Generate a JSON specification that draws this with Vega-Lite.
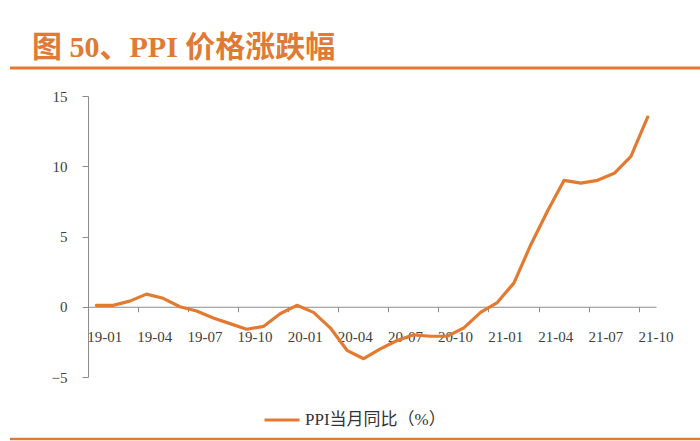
{
  "$schema": "https://vega.github.io/schema/vega-lite/v6.json",
  "autosize": "none",
  "width": 568,
  "height": 281,
  "padding": {"left": 88, "top": 96, "right": 44, "bottom": 64},
  "background": "white",
  "title": {
    "text": "图 50、PPI 价格涨跌幅",
    "anchor": "start",
    "frame": "group",
    "dx": -56,
    "dy": 23,
    "offset": 3,
    "baseline": "alphabetic",
    "font": "'Liberation Serif', 'Noto Sans CJK SC'",
    "fontSize": 30,
    "fontWeight": "bold",
    "color": "#E07A34"
  },
  "config": {
    "view": {"stroke": null},
    "axis": {"labelFont": "'Liberation Serif', serif", "labelFontSize": 15, "labelColor": "#404040", "domainColor": "#8c8c8c", "tickColor": "#8c8c8c", "grid": false, "title": null}
  },
  "data": {
    "values": [
      {"month": "19-01", "value": 0.1, "series": "PPI当月同比（%）"},
      {"month": "19-02", "value": 0.1, "series": "PPI当月同比（%）"},
      {"month": "19-03", "value": 0.4, "series": "PPI当月同比（%）"},
      {"month": "19-04", "value": 0.9, "series": "PPI当月同比（%）"},
      {"month": "19-05", "value": 0.6, "series": "PPI当月同比（%）"},
      {"month": "19-06", "value": 0.0, "series": "PPI当月同比（%）"},
      {"month": "19-07", "value": -0.3, "series": "PPI当月同比（%）"},
      {"month": "19-08", "value": -0.8, "series": "PPI当月同比（%）"},
      {"month": "19-09", "value": -1.2, "series": "PPI当月同比（%）"},
      {"month": "19-10", "value": -1.6, "series": "PPI当月同比（%）"},
      {"month": "19-11", "value": -1.4, "series": "PPI当月同比（%）"},
      {"month": "19-12", "value": -0.5, "series": "PPI当月同比（%）"},
      {"month": "20-01", "value": 0.1, "series": "PPI当月同比（%）"},
      {"month": "20-02", "value": -0.4, "series": "PPI当月同比（%）"},
      {"month": "20-03", "value": -1.5, "series": "PPI当月同比（%）"},
      {"month": "20-04", "value": -3.1, "series": "PPI当月同比（%）"},
      {"month": "20-05", "value": -3.7, "series": "PPI当月同比（%）"},
      {"month": "20-06", "value": -3.0, "series": "PPI当月同比（%）"},
      {"month": "20-07", "value": -2.4, "series": "PPI当月同比（%）"},
      {"month": "20-08", "value": -2.0, "series": "PPI当月同比（%）"},
      {"month": "20-09", "value": -2.1, "series": "PPI当月同比（%）"},
      {"month": "20-10", "value": -2.1, "series": "PPI当月同比（%）"},
      {"month": "20-11", "value": -1.5, "series": "PPI当月同比（%）"},
      {"month": "20-12", "value": -0.4, "series": "PPI当月同比（%）"},
      {"month": "21-01", "value": 0.3, "series": "PPI当月同比（%）"},
      {"month": "21-02", "value": 1.7, "series": "PPI当月同比（%）"},
      {"month": "21-03", "value": 4.4, "series": "PPI当月同比（%）"},
      {"month": "21-04", "value": 6.8, "series": "PPI当月同比（%）"},
      {"month": "21-05", "value": 9.0, "series": "PPI当月同比（%）"},
      {"month": "21-06", "value": 8.8, "series": "PPI当月同比（%）"},
      {"month": "21-07", "value": 9.0, "series": "PPI当月同比（%）"},
      {"month": "21-08", "value": 9.5, "series": "PPI当月同比（%）"},
      {"month": "21-09", "value": 10.7, "series": "PPI当月同比（%）"},
      {"month": "21-10", "value": 13.5, "series": "PPI当月同比（%）"}
    ]
  },
  "layer": [
    {
      "mark": {"type": "line", "strokeWidth": 3.2, "strokeJoin": "round", "strokeCap": "round"},
      "encoding": {
        "x": {
          "field": "month",
          "type": "ordinal",
          "scale": {"type": "band", "paddingInner": 0, "paddingOuter": 0},
          "axis": {
            "values": ["19-01", "19-04", "19-07", "19-10", "20-01", "20-04", "20-07", "20-10", "21-01", "21-04", "21-07", "21-10"],
            "bandPosition": 0,
            "labelOffset": 8.35,
            "labelAngle": 0,
            "labelPadding": 18,
            "tickSize": 5,
            "offset": -70.25
          }
        },
        "y": {
          "field": "value",
          "type": "quantitative",
          "scale": {"domain": [-5, 15], "nice": false, "zero": false},
          "axis": {"values": [-5, 0, 5, 10, 15], "tickSize": 6, "labelPadding": 15}
        },
        "color": {
          "field": "series",
          "type": "nominal",
          "scale": {"range": ["#E47A30"]},
          "legend": {
            "title": null,
            "orient": "none",
            "legendX": 175,
            "legendY": 305,
            "symbolType": "stroke",
            "symbolSize": 1225,
            "symbolStrokeWidth": 3,
            "labelFont": "'Liberation Serif', 'Noto Sans CJK SC'",
            "labelFontSize": 17,
            "labelColor": "#333333",
            "labelOffset": 4,
            "padding": 0
          }
        }
      }
    },
    {
      "data": {"values": [{"pos": "top"}]},
      "mark": {"type": "rule", "color": "#E47A30"},
      "encoding": {
        "x": {"value": -78},
        "x2": {"value": 612},
        "y": {"value": -28},
        "strokeWidth": {"value": 3}
      }
    },
    {
      "data": {"values": [{"pos": "bottom"}]},
      "mark": {"type": "rule", "color": "#E47A30"},
      "encoding": {
        "x": {"value": -78},
        "x2": {"value": 612},
        "y": {"value": 343},
        "strokeWidth": {"value": 2.5}
      }
    }
  ]
}
